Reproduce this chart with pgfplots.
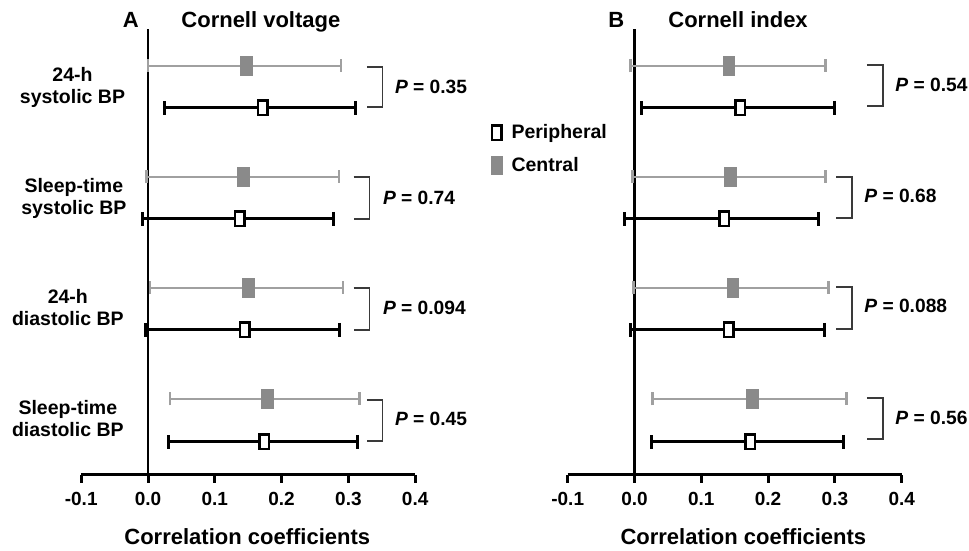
\documentclass[border=0pt]{standalone}
\usepackage{fontspec}
\setmainfont{Liberation Sans}
\usepackage{pgfplots}
\usepackage{pgfplotstable}
\pgfplotsset{compat=1.18}

\definecolor{barGray}{HTML}{A0A0A0}
\definecolor{boxGray}{HTML}{8A8A8A}
\definecolor{brk}{HTML}{3A3A3A}

\newcommand\fTick{\fontsize{19}{21}\selectfont\bfseries}
\newcommand\fRow{\fontsize{19.5}{22}\selectfont\bfseries}
\newcommand\fTitle{\fontsize{22}{25}\selectfont\bfseries}
\newcommand\fP{\fontsize{19.2}{22}\selectfont\bfseries}
\newcommand\fLeg{\fontsize{19.5}{22}\selectfont\bfseries}
\newcommand\Pv[1]{\textit{P} = #1}

% y = vertical position of the row (pt from bottom of picture)
% x = coefficient, m = x - lower CI, p = upper CI - x
\pgfplotstableread{
y   x     m     p
485 0.147 0.147 0.142
374 0.143 0.145 0.143
263 0.150 0.147 0.142
152 0.179 0.146 0.138
}\Acen
\pgfplotstableread{
y   x     m     p
443 0.172 0.147 0.139
332 0.137 0.145 0.140
221 0.145 0.148 0.142
109 0.174 0.144 0.140
}\Aper
\pgfplotstableread{
y   x     m     p
485 0.141 0.147 0.145
374 0.143 0.146 0.143
263 0.147 0.149 0.143
152 0.176 0.149 0.141
}\Bcen
\pgfplotstableread{
y   x     m     p
443 0.158 0.148 0.141
332 0.134 0.149 0.142
221 0.141 0.147 0.143
109 0.173 0.147 0.140
}\Bper

\pgfplotsset{
  forest/.style={
    scale only axis, width=334pt, height=446pt,
    anchor=south west,
    xmin=-0.1, xmax=0.4, ymin=76, ymax=522,
    axis x line*=bottom, axis y line=none,
    xtick={-0.1,0,0.1,0.2,0.3,0.4},
    xticklabels={-0.1,0.0,0.1,0.2,0.3,0.4},
    ytick=\empty,
    tick align=outside, major tick length=8pt,
    x axis line style={line width=3pt, black},
    every tick/.style={line width=3pt, black},
    xticklabel style={font=\fTick, yshift=-6pt},
    clip=false,
  },
  cenbars/.style={only marks, mark=none,
    error bars/.cd, x dir=both, x explicit, error mark=|,
    error bar style={line width=2.8pt, color=barGray},
    error mark options={line width=2.8pt, color=barGray, mark size=6.5pt},
    /pgfplots/.cd},
  perbars/.style={only marks, mark=none,
    error bars/.cd, x dir=both, x explicit, error mark=|,
    error bar style={line width=3pt, color=black},
    error mark options={line width=3pt, color=black, mark size=7pt},
    /pgfplots/.cd},
  cenmark/.style={only marks, mark=square*, mark size=9.2pt,
    mark options={xscale=0.632, fill=boxGray, draw=boxGray, line width=0.6pt}},
  permark/.style={only marks, mark=square*, mark size=7.25pt,
    mark options={xscale=0.655, fill=white, draw=black, line width=2.5pt}},
}

\begin{document}
\begin{tikzpicture}
\path[use as bounding box] (0,0) rectangle (969pt,551pt);

% ---------------- Panel A ----------------
\begin{axis}[forest, at={(81.2pt,76pt)}]
  \draw[line width=2.8pt] (axis cs:0,76) -- (axis cs:0,522);
  \addplot[cenbars] table[x=x, y=y, x error minus=m, x error plus=p] {\Acen};
  \addplot[perbars] table[x=x, y=y, x error minus=m, x error plus=p] {\Aper};
  \addplot[cenmark] table[x=x, y=y] {\Acen};
  \addplot[permark] table[x=x, y=y] {\Aper};

  % titles
  \node[anchor=base, font=\fTitle, inner sep=0pt] at (axis cs:-0.0257,523) {A};
  \node[anchor=base, font=\fTitle, inner sep=0pt] at (axis cs:0.169,523.5) {Cornell voltage};
  \node[anchor=base, font=\fTitle, inner sep=0pt] at (axis cs:0.1486,6) {Correlation coefficients};

  % row labels
  \node[anchor=base, font=\fRow, inner sep=0pt] at (axis cs:-0.113,469.5) {24-h};
  \node[anchor=base, font=\fRow, inner sep=0pt] at (axis cs:-0.113,447) {systolic BP};
  \node[anchor=base, font=\fRow, inner sep=0pt] at (axis cs:-0.111,358.5) {Sleep-time};
  \node[anchor=base, font=\fRow, inner sep=0pt] at (axis cs:-0.111,336) {systolic BP};
  \node[anchor=base, font=\fRow, inner sep=0pt] at (axis cs:-0.120,247.5) {24-h};
  \node[anchor=base, font=\fRow, inner sep=0pt] at (axis cs:-0.120,225) {diastolic BP};
  \node[anchor=base, font=\fRow, inner sep=0pt] at (axis cs:-0.120,136.5) {Sleep-time};
  \node[anchor=base, font=\fRow, inner sep=0pt] at (axis cs:-0.120,114) {diastolic BP};

  % brackets and P values
  \draw[brk, line width=1.3pt] (axis cs:0.3275,484) -- (axis cs:0.3515,484) -- (axis cs:0.3515,444) -- (axis cs:0.3275,444);
  \draw[brk, line width=1.3pt] (axis cs:0.308,374) -- (axis cs:0.332,374) -- (axis cs:0.332,332) -- (axis cs:0.308,332);
  \draw[brk, line width=1.3pt] (axis cs:0.308,263) -- (axis cs:0.332,263) -- (axis cs:0.332,221) -- (axis cs:0.308,221);
  \draw[brk, line width=1.3pt] (axis cs:0.3275,151) -- (axis cs:0.3515,151) -- (axis cs:0.3515,110) -- (axis cs:0.3275,110);
  \node[anchor=base west, font=\fP, inner sep=0pt] at (axis cs:0.3695,457.7) {\Pv{0.35}};
  \node[anchor=base west, font=\fP, inner sep=0pt] at (axis cs:0.3515,346.7) {\Pv{0.74}};
  \node[anchor=base west, font=\fP, inner sep=0pt] at (axis cs:0.3515,236.7) {\Pv{0.094}};
  \node[anchor=base west, font=\fP, inner sep=0pt] at (axis cs:0.3695,125) {\Pv{0.45}};
\end{axis}

% ---------------- Panel B ----------------
\begin{axis}[forest, at={(567.7pt,76pt)},
  legend style={at={(axis cs:-0.2153,402)}, anchor=west, draw=none, fill=none,
    font=\fLeg, inner sep=0pt, row sep=13pt, cells={anchor=west},
    /tikz/every odd column/.append style={column sep=7pt}},
  legend cell align=left]
  \draw[line width=2.8pt] (axis cs:0,76) -- (axis cs:0,522);
  \addplot[forget plot, cenbars] table[x=x, y=y, x error minus=m, x error plus=p] {\Bcen};
  \addplot[forget plot, perbars] table[x=x, y=y, x error minus=m, x error plus=p] {\Bper};
  \addplot[forget plot, cenmark] table[x=x, y=y] {\Bcen};
  \addplot[forget plot, permark] table[x=x, y=y] {\Bper};
  \addlegendimage{permark}
  \addlegendentry{Peripheral}
  \addlegendimage{cenmark}
  \addlegendentry{Central}

  \node[anchor=base, font=\fTitle, inner sep=0pt] at (axis cs:-0.0274,523) {B};
  \node[anchor=base, font=\fTitle, inner sep=0pt] at (axis cs:0.155,523.5) {Cornell index};
  \node[anchor=base, font=\fTitle, inner sep=0pt] at (axis cs:0.163,6) {Correlation coefficients};

  \draw[brk, line width=1.3pt] (axis cs:0.348,486) -- (axis cs:0.372,486) -- (axis cs:0.372,445) -- (axis cs:0.348,445);
  \draw[brk, line width=1.3pt] (axis cs:0.302,374) -- (axis cs:0.3254,374) -- (axis cs:0.3254,333) -- (axis cs:0.302,333);
  \draw[brk, line width=1.3pt] (axis cs:0.302,264) -- (axis cs:0.3254,264) -- (axis cs:0.3254,222) -- (axis cs:0.302,222);
  \draw[brk, line width=1.3pt] (axis cs:0.348,153) -- (axis cs:0.372,153) -- (axis cs:0.372,112) -- (axis cs:0.348,112);
  \node[anchor=base west, font=\fP, inner sep=0pt] at (axis cs:0.3903,459.3) {\Pv{0.54}};
  \node[anchor=base west, font=\fP, inner sep=0pt] at (axis cs:0.3438,348.7) {\Pv{0.68}};
  \node[anchor=base west, font=\fP, inner sep=0pt] at (axis cs:0.3438,238.3) {\Pv{0.088}};
  \node[anchor=base west, font=\fP, inner sep=0pt] at (axis cs:0.3903,126.7) {\Pv{0.56}};
\end{axis}
\end{tikzpicture}
\end{document}
